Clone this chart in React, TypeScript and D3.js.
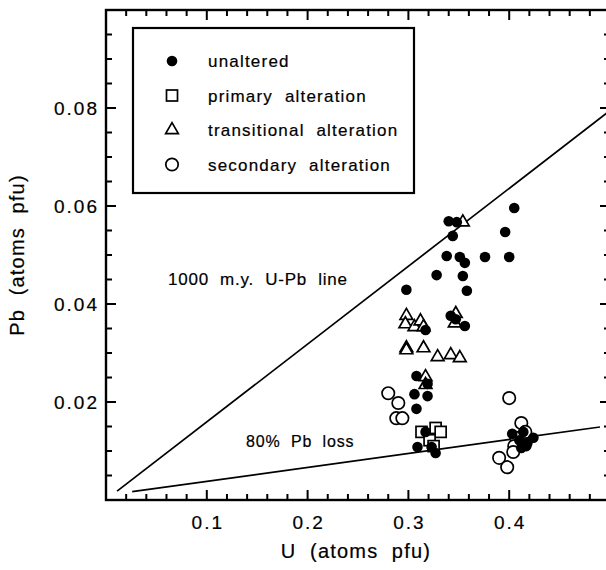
import * as d3 from 'd3';

// U (atoms pfu), Pb (atoms pfu)
const unalteredU = [0.34, 0.348, 0.344, 0.405, 0.396, 0.40, 0.376, 0.338, 0.351, 0.328, 0.356, 0.354, 0.358, 0.298, 0.342, 0.347, 0.317, 0.356, 0.308, 0.319, 0.306, 0.319, 0.308, 0.317, 0.309, 0.323, 0.327, 0.403, 0.414, 0.410, 0.418, 0.424, 0.412, 0.417];
const unalteredPb = [0.0569, 0.0567, 0.0539, 0.0596, 0.0547, 0.0496, 0.0496, 0.0498, 0.0496, 0.0459, 0.0484, 0.0457, 0.0427, 0.0429, 0.0376, 0.0369, 0.0347, 0.0355, 0.0253, 0.0237, 0.0216, 0.0212, 0.0186, 0.0139, 0.0108, 0.0108, 0.0096, 0.0135, 0.0139, 0.0122, 0.0116, 0.0127, 0.0106, 0.011];

const primaryU = [0.313, 0.327, 0.332, 0.321, 0.325];
const primaryPb = [0.0139, 0.0147, 0.0139, 0.0122, 0.011];

const transitionalU = [0.354, 0.298, 0.297, 0.306, 0.312, 0.315, 0.298, 0.298, 0.315, 0.347, 0.346, 0.317, 0.317, 0.329, 0.342, 0.351];
const transitionalPb = [0.0567, 0.0376, 0.0359, 0.0353, 0.0365, 0.0353, 0.031, 0.0306, 0.031, 0.038, 0.0361, 0.0251, 0.0235, 0.0292, 0.0296, 0.029];

const secondaryU = [0.28, 0.29, 0.288, 0.294, 0.40, 0.412, 0.416, 0.407, 0.405, 0.39, 0.398, 0.404];
const secondaryPb = [0.0218, 0.0198, 0.0167, 0.0167, 0.0208, 0.0157, 0.0139, 0.0127, 0.011, 0.0086, 0.0067, 0.0098];

// reference lines (U, Pb end points)
const concordU = [0.011, 0.497];
const concordPb = [0.0018, 0.079];
const lossU = [0.026, 0.49];
const lossPb = [0.0017, 0.0149];

const xTickLabels = ['0.1', '0.2', '0.3', '0.4'];
const yTickLabels = ['0.02', '0.04', '0.06', '0.08'];

const legendLabels = ['unaltered', 'primary  alteration', 'transitional  alteration', 'secondary  alteration'];

const W = 606;
const H = 570;
const m = { left: 106, right: 610, top: 10, bottom: 500 };
const font = "'Liberation Sans', Arial, sans-serif";

const zip = (a: number[], b: number[]) => a.map((v, i) => [v, b[i]] as [number, number]);

export default function App() {
  const x = d3.scaleLinear().domain([0, 0.5]).range([m.left, m.right]);
  const y = d3.scaleLinear().domain([0, 0.1]).range([m.bottom, m.top]);

  const tri = d3.symbol(d3.symbolTriangle, 70)()!;
  const line = d3.line<[number, number]>().x(d => x(d[0])).y(d => y(d[1]));

  const xMinor = d3.range(0, 0.5001, 0.02);
  const yMinor = d3.range(0, 0.1001, 0.005);
  const isMajorX = (v: number) => Math.abs(v * 10 - Math.round(v * 10)) < 1e-6;
  const isMajorY = (v: number) => Math.abs(v * 50 - Math.round(v * 50)) < 1e-6;

  const symbol = (i: number, cx: number, cy: number) => {
    if (i === 0) return <circle cx={cx} cy={cy} r={5.3} fill="#000" />;
    if (i === 1) return <rect x={cx - 5.5} y={cy - 5.5} width={11} height={11} fill="#fff" stroke="#000" strokeWidth={1.7} />;
    if (i === 2) return <path d={tri} transform={`translate(${cx},${cy})`} fill="#fff" stroke="#000" strokeWidth={1.7} />;
    return <circle cx={cx} cy={cy} r={6.2} fill="#fff" stroke="#000" strokeWidth={1.7} />;
  };

  const txt = { fill: '#000', stroke: '#000', strokeWidth: 0.2, style: { whiteSpace: 'pre' as const } };

  return (
    <svg width={W} height={H} style={{ position: 'absolute', left: 0, top: 0, background: '#fff' }} fontFamily={font}>
      {/* frame */}
      <rect x={m.left} y={m.top} width={m.right - m.left} height={m.bottom - m.top} fill="none" stroke="#000" strokeWidth={2.4} />

      {/* x ticks, bottom and top */}
      {xMinor.map((v, i) => {
        const len = isMajorX(v) ? 10 : 6;
        return (
          <g key={'xt' + i} stroke="#000" strokeWidth={2}>
            <line x1={x(v)} x2={x(v)} y1={m.bottom} y2={m.bottom - len} />
            <line x1={x(v)} x2={x(v)} y1={m.top} y2={m.top + len} />
          </g>
        );
      })}
      {/* y ticks, left and right */}
      {yMinor.map((v, i) => {
        const len = isMajorY(v) ? 10 : 6;
        return (
          <g key={'yt' + i} stroke="#000" strokeWidth={2}>
            <line x1={m.left} x2={m.left + len} y1={y(v)} y2={y(v)} />
            <line x1={m.right} x2={m.right - len} y1={y(v)} y2={y(v)} />
          </g>
        );
      })}

      {xTickLabels.map(t => (
        <text key={t} x={x(+t) + 1} y={m.bottom + 29} textAnchor="middle" fontSize={19} letterSpacing={2} {...txt}>{t}</text>
      ))}
      {yTickLabels.map(t => (
        <text key={t} x={m.left - 7} y={y(+t) + 7} textAnchor="end" fontSize={19} letterSpacing={2} {...txt}>{t}</text>
      ))}

      <text x={(m.left + 606) / 2} y={558} textAnchor="middle" fontSize={20} letterSpacing={1.2} {...txt}>U  (atoms  pfu)</text>
      <text transform={`translate(24,${(m.top + m.bottom) / 2}) rotate(-90)`} textAnchor="middle" fontSize={20} letterSpacing={1.2} {...txt}>Pb  (atoms  pfu)</text>

      {/* reference lines */}
      <path d={line(zip(concordU, concordPb))!} fill="none" stroke="#000" strokeWidth={1.7} />
      <path d={line(zip(lossU, lossPb))!} fill="none" stroke="#000" strokeWidth={1.7} />
      <text x={168} y={285} fontSize={17} letterSpacing={0.8} {...txt}>1000  m.y.  U-Pb  line</text>
      <text x={246} y={447} fontSize={16} letterSpacing={0.8} {...txt}>80%  Pb  loss</text>

      {/* data */}
      {zip(secondaryU, secondaryPb).map((d, i) => <g key={'s' + i}>{symbol(3, x(d[0]), y(d[1]))}</g>)}
      {zip(transitionalU, transitionalPb).map((d, i) => <g key={'t' + i}>{symbol(2, x(d[0]), y(d[1]))}</g>)}
      {zip(primaryU, primaryPb).map((d, i) => <g key={'p' + i}>{symbol(1, x(d[0]), y(d[1]))}</g>)}
      {zip(unalteredU, unalteredPb).map((d, i) => <g key={'u' + i}>{symbol(0, x(d[0]), y(d[1]))}</g>)}

      {/* legend */}
      <rect x={133} y={28} width={281} height={165} fill="#fff" stroke="#000" strokeWidth={2.2} />
      {legendLabels.map((l, i) => (
        <g key={l}>
          {symbol(i, 172, 61 + i * 34.5)}
          <text x={208} y={61 + i * 34.5 + 6} fontSize={17} letterSpacing={1.2} {...txt}>{l}</text>
        </g>
      ))}
    </svg>
  );
}
